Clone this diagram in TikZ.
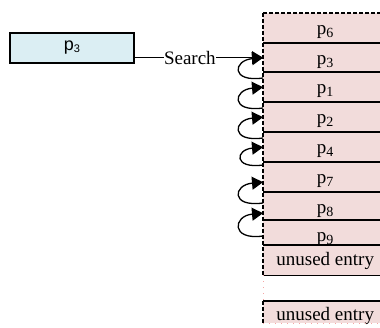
\documentclass[tikz,border=0pt]{standalone}
\usepackage{fontspec}
\setmainfont{Liberation Serif}
\newfontfamily\boxfont{Liberation Sans}
\usetikzlibrary{arrows.meta}
\definecolor{cellpink}{RGB}{242,220,219}
\definecolor{boxblue}{RGB}{219,238,243}
% pointer name with a lowered index
\newcommand\entry[1]{p\raisebox{-3pt}{\fontsize{14}{14}\selectfont #1}}

\begin{document}
\begin{tikzpicture}[x=1pt,y=-1pt,
  cell/.style={fill=cellpink, minimum width=124pt, inner sep=0pt, anchor=north west,
               text depth=0pt, font=\fontsize{19}{22}\selectfont},
  row/.style 2 args={cell, minimum height=#1, text height=#2},
  divider/.style={line width=1.3pt},
  edge/.style={line width=1.2pt, dash pattern=on 4pt off 2pt},
  faint/.style={draw=cellpink!75!red, line width=1pt, dash pattern=on 1pt off 5pt},
  link/.style={line width=1.3pt, -{Triangle[length=11pt,width=13pt]}},
]
\useasboundingbox (0,0) rectangle (380,327);
\clip (0,0) rectangle (380,327);
\fill[white] (0,0) rectangle (380,327);

% table of entries
\node[row={30pt}{12pt}] (p6) at (263,13)  {\entry{6}};
\node[row={29pt}{13pt}] (p3) at (263,43)  {\entry{3}};
\node[row={30pt}{12pt}] (p1) at (263,72)  {\entry{1}};
\node[row={30pt}{12pt}] (p2) at (263,102) {\entry{2}};
\node[row={30pt}{12pt}] (p4) at (263,132) {\entry{4}};
\node[row={30pt}{12pt}] (p7) at (263,162) {\entry{7}};
\node[row={28pt}{14pt}] (p8) at (263,192) {\entry{8}};
\node[row={25pt}{17pt}] (p9) at (263,220) {\entry{9}};
\node[row={30pt}{10pt}] (u1) at (263,245) {unused entry};
\node[row={22pt}{16pt}] (u2) at (263,301) {unused entry};

% borders of the table
\foreach \r in {p3,p1,p2,p4,p7,p8,p9,u1}
  \draw[divider] (\r.north west) -- (\r.north east);
\draw[divider] (u1.south west) -- (u1.south east);
\draw[divider] (u2.north west) -- (u2.north east);
\draw[edge] (p6.north west) -- (p6.north east);
\draw[edge] (p6.north west) -- (u1.south west);
\draw[edge] (u2.north west) -- (u2.south west);
\draw[faint] (u1.south west) -- (u2.north west);
\draw[faint] (u2.south west) -- (u2.south east);

% search key
\node[draw, line width=1.4pt, fill=boxblue, minimum width=124pt, minimum height=30pt,
      inner sep=0pt, font=\boxfont\fontsize{18}{20}\selectfont]
  (src) at (72,48) {p\raisebox{-1.5pt}{\fontsize{11}{11}\selectfont 3}};

\draw[link] (src.east |- p3.west) -- node[pos=0.43, fill=white, inner sep=0pt,
      font=\fontsize{19}{22}\selectfont] (search) {Search} (p3.west);

% chain of links between entries
\draw[link] ([yshift=-6pt]p1.north west)  to[out=188,in=185,out distance=33pt,in distance=30pt] (p3.west);
\draw[link] ([yshift=-6pt]p2.north west)  to[out=188,in=185,out distance=33pt,in distance=30pt] (p1.west);
\draw[link] ([yshift=-6pt]p4.north west)  to[out=188,in=185,out distance=33pt,in distance=30pt] (p2.west);
\draw[link] ([yshift=-3pt]p7.north west)  to[out=188,in=185,out distance=30pt,in distance=28pt] (p4.west);
\draw[link] ([yshift=-11pt]p8.north west) to[out=188,in=185,out distance=33pt,in distance=30pt] ([yshift=-5pt]p7.west);
\draw[link] ([yshift=-16pt]p9.north west) to[out=188,in=185,out distance=33pt,in distance=30pt] ([yshift=-7pt]p8.west);
\end{tikzpicture}
\end{document}
